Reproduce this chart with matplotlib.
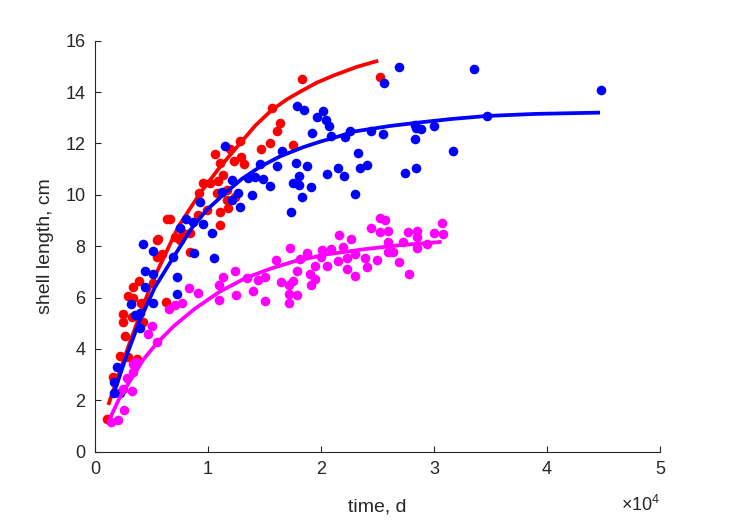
import matplotlib
matplotlib.use("Agg")
import matplotlib.pyplot as plt

plt.rcParams['font.family'] = ['Liberation Sans', 'DejaVu Sans']
plt.rcParams['mathtext.fontset'] = 'custom'
plt.rcParams['mathtext.rm'] = 'Liberation Sans'
plt.rcParams['mathtext.it'] = 'Liberation Sans'

# ---- data (time in days, shell length in cm) ----
red_t = [1089, 1566, 2212, 2947, 3690, 2655, 2505, 2505, 3248, 2947, 3336, 3336, 3921, 4044, 4275,
         5160, 5460, 5903, 5460, 6284, 7080, 8408, 7523, 5602, 6345, 6638, 8408, 9142, 9231, 9585,
         10178, 10912, 11355, 10620, 11063, 11948, 12302, 12833, 12894, 13187, 11709, 11063, 9885,
         11063, 11797, 12390, 14691, 15488, 7815, 18293, 25223, 15638, 16373, 16134, 17550, 10771, 11655]
red_L = [1.26, 2.90, 3.73, 3.67, 3.62, 4.52, 5.06, 5.36, 5.25, 6.06, 5.97, 6.42, 6.66, 5.78, 5.06,
         6.58, 7.59, 7.70, 8.24, 5.83, 8.37, 7.79, 8.24, 8.27, 9.06, 9.06, 8.50, 9.21, 10.06, 10.47,
         10.47, 10.55, 10.77, 11.58, 11.23, 11.77, 11.33, 12.11, 11.48, 11.20, 10.19, 9.34, 9.41,
         8.82, 9.47, 9.93, 11.77, 12.00, 8.50, 14.50, 14.57, 13.37, 12.81, 12.50, 11.94, 10.06, 9.80]

blue_t = [1682, 2212, 1682, 1920, 3983, 3983, 3540, 3159, 4425, 4425, 5160, 5106, 4275, 5106, 6930,
          7284, 7284, 8762, 7523, 8054, 8700, 9585, 9293, 10328, 10558, 11505, 12098, 11213, 12098,
          12682, 12833, 13868, 13567, 14160, 14603, 14841, 15488, 26931, 25603, 17850, 18497, 19620,
          20151, 20444, 20735, 19178, 20859, 22568, 22125, 24399, 25515, 28320, 28320, 16523, 16080,
          17789, 18735, 18081, 17550, 18081, 19116, 18293, 17319, 20559, 21479, 22037, 23249, 23453,
          24099, 23010, 27435, 28409, 33542, 44781, 34665, 28409, 28851, 30002, 31710]
blue_L = [2.27, 2.27, 2.72, 3.31, 4.80, 5.41, 5.32, 5.74, 6.42, 7.05, 6.92, 5.80, 8.08, 7.82, 7.57,
          6.79, 6.14, 7.72, 8.72, 9.06, 8.95, 8.85, 9.73, 8.52, 7.55, 11.91, 10.58, 10.12, 9.80,
          10.06, 9.54, 9.99, 10.67, 10.68, 11.20, 10.60, 10.34, 14.96, 14.34, 13.46, 13.30, 13.04,
          13.26, 12.91, 12.68, 12.42, 12.29, 12.50, 12.26, 12.50, 12.37, 12.72, 12.16, 11.72, 11.12,
          11.23, 11.12, 10.73, 10.47, 10.38, 10.29, 9.90, 9.34, 10.81, 11.03, 10.74, 11.62, 11.03,
          11.16, 10.03, 10.86, 11.03, 14.90, 14.08, 13.07, 12.61, 12.55, 12.69, 11.72]

mag_t = [1389, 2062, 2567, 2805, 2451, 3248, 3336, 3629, 3390, 4717, 5018, 5460, 6576, 7080, 7673,
         8346, 9089, 25223, 25665, 24399, 25223, 25957, 21621, 22629, 30683, 30028, 30771, 27674,
         28470, 28470, 27231, 25957, 28524, 29409, 25957, 26400, 26931, 27789, 21975, 20886, 20063,
         18789, 17258, 16019, 18143, 20001, 19470, 20505, 21532, 22275, 23010, 23895, 24930, 22275,
         24099, 23010, 17904, 19028, 19470, 19090, 17550, 16461, 17196, 17196, 17904, 17196, 15045,
         14010, 15045, 14452, 13425, 12390, 11301, 10974, 12452, 10974]
mag_L = [1.17, 1.23, 1.62, 2.86, 2.43, 2.37, 3.40, 3.50, 3.11, 4.58, 4.90, 4.28, 5.55, 5.71, 5.78,
         6.38, 6.17, 9.09, 9.02, 8.72, 8.56, 8.60, 8.44, 8.28, 8.91, 8.50, 8.47, 8.56, 8.60, 8.35,
         8.15, 8.17, 7.94, 8.07, 7.76, 7.76, 7.37, 6.91, 7.98, 7.88, 7.85, 7.72, 7.94, 7.46, 7.49,
         7.59, 7.24, 7.24, 7.43, 7.53, 7.68, 7.55, 7.46, 7.11, 7.18, 6.84, 7.05, 6.92, 6.72, 6.49,
         6.64, 6.59, 6.49, 6.14, 6.10, 5.78, 5.87, 6.26, 6.81, 6.68, 6.77, 7.03, 6.79, 6.49, 6.10, 5.90]

# fitted growth curves
red_fit_t = [1177, 2947, 5000, 7372, 9293, 11000, 12833, 14200, 15638, 17000, 18143, 19600, 21090, 23160, 25072]
red_fit_L = [1.82, 4.09, 6.55, 8.76, 10.06, 11.05, 12.00, 12.70, 13.30, 13.72, 14.01, 14.36, 14.64, 14.98, 15.22]
blue_fit_t = [1620, 2800, 3983, 5300, 6788, 8558, 9885, 11505, 13000, 14603, 16400, 18400, 20000,
              21683, 22860, 26108, 28763, 31500, 34665, 39000, 44693]
blue_fit_L = [2.21, 3.75, 5.13, 6.40, 7.46, 8.70, 9.41, 10.06, 10.62, 11.09, 11.50, 11.85, 12.08,
              12.29, 12.46, 12.68, 12.82, 12.95, 13.07, 13.15, 13.20]
mag_fit_t = [1328, 2200, 3248, 4300, 5460, 7000, 8850, 11000, 13275, 15500, 17700, 20500, 23603, 27000, 30683]
mag_fit_L = [1.30, 2.12, 2.86, 3.60, 4.22, 4.90, 5.57, 6.22, 6.75, 7.12, 7.42, 7.68, 7.87, 8.04, 8.17]

xtick_vals = [0, 10000, 20000, 30000, 40000, 50000]
xtick_labels = ['0', '1', '2', '3', '4', '5']
ytick_vals = [0, 2, 4, 6, 8, 10, 12, 14, 16]

# ---- figure ----
fig = plt.figure(figsize=(7.29, 5.21), dpi=100)
ax = fig.add_axes([0.1303, 0.1330, 0.7750, 0.7889])

ms = 48
lw = 2.7
ax.scatter(red_t, red_L, s=ms, c='#ff0000', linewidths=0, zorder=2)
ax.plot(red_fit_t, red_fit_L, color='#ff0000', lw=lw, zorder=3, solid_capstyle='butt',
        solid_joinstyle='round')
ax.scatter(blue_t, blue_L, s=ms, c='#0000ff', linewidths=0, zorder=4)
ax.plot(blue_fit_t, blue_fit_L, color='#0000ff', lw=lw, zorder=5, solid_capstyle='butt',
        solid_joinstyle='round')
ax.scatter(mag_t, mag_L, s=ms, c='#ff00ff', linewidths=0, zorder=6)
ax.plot(mag_fit_t, mag_fit_L, color='#ff00ff', lw=lw, zorder=7, solid_capstyle='butt',
        solid_joinstyle='round')

ax.set_xlim(0, 50000)
ax.set_ylim(0, 16)
ax.set_xticks(xtick_vals)
ax.set_xticklabels(xtick_labels)
ax.set_yticks(ytick_vals)

axc = '#262626'
for side in ['top', 'right']:
    ax.spines[side].set_visible(False)
for side in ['left', 'bottom']:
    ax.spines[side].set_color(axc)
    ax.spines[side].set_linewidth(0.8)
ax.tick_params(direction='in', length=4, width=0.8, color=axc, labelcolor=axc,
               labelsize=13, pad=7)

ax.set_xlabel('time, d', fontsize=14, color=axc)
ax.xaxis.set_label_coords(0.5, -0.115)
ax.set_ylabel('shell length, cm', fontsize=14, color=axc)
ax.yaxis.set_label_coords(-0.072, 0.5)

ax.text(1.0, -0.105, r'$\times10^{4}$', transform=ax.transAxes, ha='right', va='top',
        fontsize=13, color=axc)

fig.savefig('out.png', dpi=100)
